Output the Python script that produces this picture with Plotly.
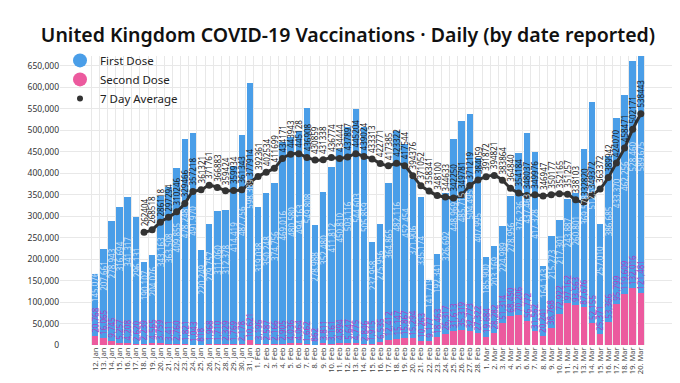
import plotly.graph_objects as go

dates = ([f"{d}. Jan" for d in range(12, 32)] +
         [f"{d}. Feb" for d in range(1, 29)] +
         [f"{d}. Mar" for d in range(1, 21)])

first_dose = [
    145076, 207661, 278943, 316694, 341317, 296131, 190107, 204076, 343163, 363508,
    409855, 478248, 491970, 220249, 279757, 311060, 312378, 414419, 487756, 598389,
    319038, 350248, 374756, 469016, 480580, 494163, 549808, 278988, 352480, 411812,
    450810, 503116, 544603, 505859, 237958, 275956, 364865, 482116, 452454, 371906,
    335174, 141719, 192341, 326692, 448969, 485715, 504495, 407995,
    185900, 203169, 224989, 278956, 376236, 437463, 417328, 164143, 215273, 217301,
    243887, 260801, 369578, 512599, 257010, 386685, 433370, 462256, 528460, 589675,
]

second_dose = [
    20768, 16065, 9745, 5257, 4208, 2620, 2239, 4565, 3759, 3411,
    2760, 1821, 1043, 818, 1968, 1710, 2329, 1769, 2178, 10621,
    3196, 2587, 2166, 2905, 4036, 4064, 1662, 862, 3811, 3161,
    4894, 5647, 4775, 2846, 1915, 6535, 12412, 15147, 15867, 15294,
    10263, 9177, 18463, 26317, 31613, 35319, 32773, 27322,
    19684, 28282, 51314, 68450, 70206, 56772, 31562, 20241, 38768, 72922,
    97162, 93563, 87676, 52155, 25371, 53366, 95799, 119609, 132016, 121481,
]

avg7 = [None] * 6 + [
    262404, 268518, 286118, 297294, 310246, 329466, 357218, 361321, 371761, 366883,
    359424, 359934, 361343, 377914,
    392361, 402534, 411699, 434171, 443943, 445128, 436908, 430859, 431338, 436774,
    434444, 437897, 445204, 439024, 433313, 422771, 417385, 423322, 417544, 394376,
    371052, 358341, 348100, 344633, 342250, 349781, 371219, 384059,
    391872, 394821, 383864, 364840, 354184, 348037, 349976, 346947, 350177, 352165,
    351257, 338103, 332820, 349372, 363372, 389942, 424070, 458471, 502171, 538443,
]

y_ticks = list(range(0, 650001, 50000))
Y_MAX = 673000

BLUE = "#4a9ee8"
PINK = "#ec5a9e"
LINE = "#333333"
FONT = "Noto Sans"

fig = go.Figure()
fig.add_trace(go.Bar(x=dates, y=second_dose, name="Second Dose", marker_color=PINK,
                     marker_line_width=0, showlegend=False))
fig.add_trace(go.Bar(x=dates, y=first_dose, name="First Dose", marker_color=BLUE,
                     marker_line_width=0, showlegend=False))
fig.add_trace(go.Scatter(x=dates, y=avg7, mode="lines+markers", name="7 Day Average",
                         line=dict(color=LINE, width=3, shape="spline", smoothing=0.6),
                         marker=dict(color=LINE, size=7), showlegend=False))

# legend entries
fig.add_trace(go.Scatter(x=[None], y=[None], mode="markers", name="First Dose",
                         marker=dict(color=BLUE, size=14)))
fig.add_trace(go.Scatter(x=[None], y=[None], mode="markers", name="Second Dose",
                         marker=dict(color=PINK, size=14)))
fig.add_trace(go.Scatter(x=[None], y=[None], mode="markers", name="7 Day Average",
                         marker=dict(color=LINE, size=6)))

ann = []
for d, f, s, a in zip(dates, first_dose, second_dose, avg7):
    top = min(f + s, Y_MAX)
    ann.append(dict(x=d, y=s + (top - s) / 2, text=f"{f:,}", textangle=-90,
                    showarrow=False, yanchor="bottom", xanchor="center", yshift=2,
                    borderpad=0,
                    font=dict(family=FONT, size=8, color="rgba(230,242,255,0.85)")))
    ann.append(dict(x=d, y=s, text=f"{s:,}", textangle=-90, showarrow=False,
                    yanchor="bottom", xanchor="center", yshift=2, borderpad=0,
                    font=dict(family=FONT, size=8, color="#b03ec4")))
    if a is not None:
        ann.append(dict(x=d, y=a, text=str(a), textangle=-90, showarrow=False,
                        yanchor="bottom", xanchor="center", yshift=5, borderpad=0,
                        font=dict(family=FONT, size=8, color="#1a1a1a")))

fig.update_layout(
    width=680, height=383,
    barmode="stack", bargap=0.2,
    margin=dict(l=52, r=12, t=48, b=46),
    paper_bgcolor="white", plot_bgcolor="white",
    font=dict(family=FONT, color="#333"),
    title=dict(text="United Kingdom COVID-19 Vaccinations · Daily (by date reported)",
               x=0.5, xanchor="center", y=1 - 27 / 383, yanchor="middle",
               font=dict(family=FONT, size=19.5, color="#111", weight=600)),
    legend=dict(x=0.0, y=1.035, xanchor="left", yanchor="top", bgcolor="rgba(0,0,0,0)",
                font=dict(family=FONT, size=11.5, color="#222"), tracegroupgap=0,
                traceorder="normal", itemwidth=30),
    annotations=ann,
    showlegend=True,
)
fig.update_xaxes(type="category", tickson="boundaries", showgrid=True, gridcolor="#e8e8e8",
                 tickmode="array", tickvals=dates, ticktext=dates,
                 tickangle=-90, tickfont=dict(family=FONT, size=7.5, color="#444"),
                 ticks="", showline=False, zeroline=False)
fig.update_yaxes(range=[0, Y_MAX], tickvals=y_ticks, tickformat=",d", showgrid=True,
                 gridcolor="#e8e8e8", tickfont=dict(family=FONT, size=8.5, color="#333"),
                 zeroline=False, showline=False)

fig.write_html("out.html")
